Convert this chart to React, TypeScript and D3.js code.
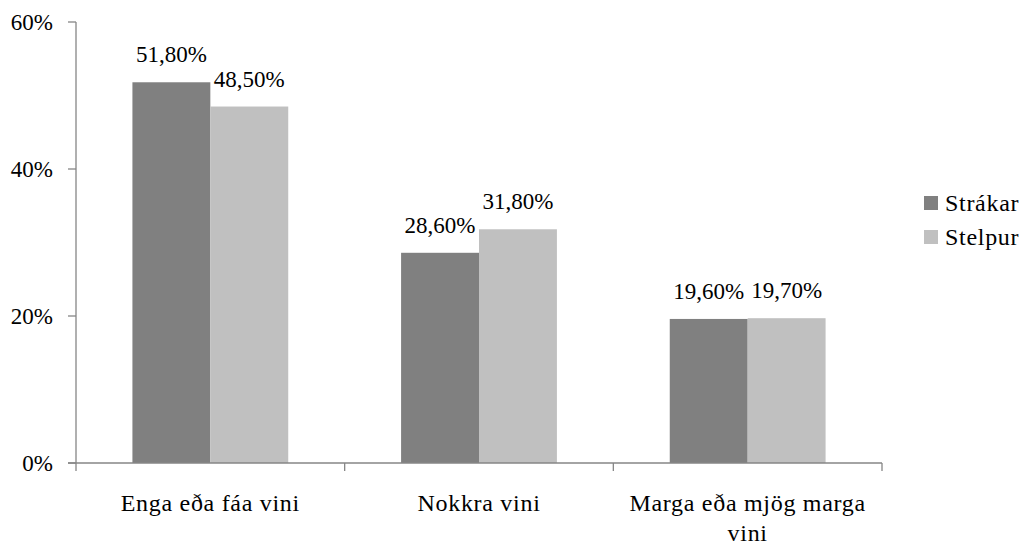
import * as d3 from "d3";

const categories = ["Enga eða fáa vini", "Nokkra vini", "Marga eða mjög marga vini"];
const seriesNames = ["Strákar", "Stelpur"];
const strakar = [51.8, 28.6, 19.6];
const stelpur = [48.5, 31.8, 19.7];
const yTicks = [0, 20, 40, 60];
const colors = ["#808080", "#c0c0c0"];

const WIDTH = 1021;
const HEIGHT = 546;
const FONT = "Liberation Serif";
const axisColor = "#868686";

// split a label into lines that fit the given width
function wrapLabel(label: string, width: number, font: string, spacing: number) {
  const ctx = document.createElement("canvas").getContext("2d") as CanvasRenderingContext2D;
  ctx.font = font;
  const measure = (s: string) => ctx.measureText(s).width + s.length * spacing;
  const lines: string[] = [];
  let cur = "";
  label.split(" ").forEach((w) => {
    const next = cur ? cur + " " + w : w;
    if (cur && measure(next) > width) {
      lines.push(cur);
      cur = w;
    } else cur = next;
  });
  lines.push(cur);
  return lines;
}

const App = () => {
  const left = 76;
  const right = 882;
  const top = 22;
  const bottom = 463;

  const y = d3.scaleLinear().domain([0, 60]).range([bottom, top]);
  const x0 = d3.scaleBand().domain(categories).range([left, right]).padding(0);
  const groupW = x0.bandwidth() * 0.58;
  const x1 = d3
    .scaleBand()
    .domain(seriesNames)
    .range([(x0.bandwidth() - groupW) / 2, (x0.bandwidth() + groupW) / 2])
    .padding(0);

  const data = [strakar, stelpur];
  const fmt = (v: number) => d3.format(".2f")(v).replace(".", ",") + "%";
  const bounds = categories.map((c) => x0(c) as number).concat([right]);

  return (
    <svg
      width={WIDTH}
      height={HEIGHT}
      style={{ position: "absolute", left: 0, top: 0, background: "#fff", fontFamily: FONT }}
    >
      {/* bars + value labels */}
      {seriesNames.map((s, si) => (
        <g key={s}>
          {categories.map((c, i) => (
            <rect
              key={c}
              x={(x0(c) as number) + (x1(s) as number)}
              y={y(data[si][i])}
              width={x1.bandwidth()}
              height={bottom - y(data[si][i])}
              fill={colors[si]}
            />
          ))}
          {categories.map((c, i) => (
            <text
              key={c}
              x={(x0(c) as number) + (x1(s) as number) + x1.bandwidth() / 2}
              y={y(data[si][i]) - 20}
              textAnchor="middle"
              fontSize={23}
            >
              {fmt(data[si][i])}
            </text>
          ))}
        </g>
      ))}

      {/* y axis */}
      <line x1={left} x2={left} y1={top} y2={bottom} stroke={axisColor} strokeWidth={1.3} />
      {yTicks.map((t) => (
        <g key={t}>
          <line x1={left - 8} x2={left} y1={y(t)} y2={y(t)} stroke={axisColor} strokeWidth={1.3} />
          <text x={53} y={y(t) + 8} textAnchor="end" fontSize={23}>
            {t + "%"}
          </text>
        </g>
      ))}

      {/* x axis */}
      <line x1={left - 8} x2={right} y1={bottom} y2={bottom} stroke={axisColor} strokeWidth={1.3} />
      {bounds.map((b) => (
        <line key={b} x1={b} x2={b} y1={bottom} y2={bottom + 8} stroke={axisColor} strokeWidth={1.3} />
      ))}
      {categories.map((c) => {
        const lines = wrapLabel(c, x0.bandwidth() - 20, `24px ${FONT}`, 0.7);
        const cx = (x0(c) as number) + x0.bandwidth() / 2;
        return (
          <text key={c} textAnchor="middle" fontSize={24} letterSpacing={0.7}>
            {lines.map((l, li) => (
              <tspan key={li} x={cx} y={511 + li * 30}>
                {l}
              </tspan>
            ))}
          </text>
        );
      })}

      {/* legend */}
      {seriesNames.map((s, i) => {
        const ly = 203 + i * 34;
        return (
          <g key={s}>
            <rect x={924} y={ly - 7} width={14} height={14} fill={colors[i]} />
            <text x={945} y={ly + 8} fontSize={24} letterSpacing={0.7}>
              {s}
            </text>
          </g>
        );
      })}
    </svg>
  );
};

export default App;
